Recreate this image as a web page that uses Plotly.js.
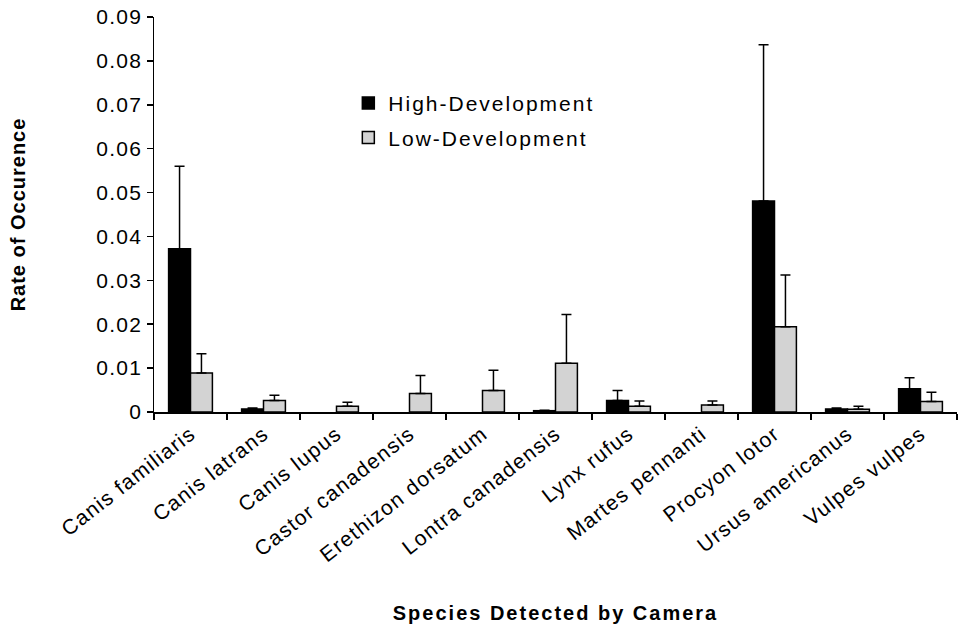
<!DOCTYPE html>
<html><head><meta charset="utf-8">
<script src="https://cdn.plot.ly/plotly-3.0.1.min.js"></script>
<style>
html,body{margin:0;padding:0;background:#fff}
.xtick text,.ytick text{letter-spacing:1.3px}
.legendtext{letter-spacing:2px}
.xtitle{letter-spacing:2px}
.ytitle{letter-spacing:1px}
</style>
</head><body><div id="chart" style="width:961px;height:624px"></div>
<script>
var species = ["Canis familiaris","Canis latrans","Canis lupus","Castor canadensis","Erethizon dorsatum","Lontra canadensis","Lynx rufus","Martes pennanti","Procyon lotor","Ursus americanus","Vulpes vulpes"];
var highDev = [0.0372,0.0007,null,null,null,0.0003,0.0026,null,0.0481,0.0007,0.0053];
var highErr = [0.0188,0.0002,0,0,0,0.0001,0.0023,0,0.0356,0.0002,0.0025];
var lowDev  = [0.0089,0.0026,0.0013,0.0042,0.0049,0.0111,0.0013,0.0016,0.0194,0.0006,0.0024];
var lowErr  = [0.0044,0.0012,0.0009,0.0041,0.0046,0.0111,0.0012,0.0009,0.0118,0.0007,0.0021];
var zeros = species.map(function(){return 0;});

var traces = [
 {type:"bar", name:"High-Development", x:species, y:highDev, legendgroup:"a",
  marker:{color:"#000000", line:{color:"#000000", width:1.5}},
  error_y:{type:"data", symmetric:false, array:highErr, arrayminus:zeros, color:"#000000", thickness:1.5, width:5}},
 {type:"bar", name:"Low-Development", x:species, y:lowDev, legendgroup:"b",
  marker:{color:"#d3d3d3", line:{color:"#000000", width:1.5}},
  error_y:{type:"data", symmetric:false, array:lowErr, arrayminus:zeros, color:"#000000", thickness:1.5, width:5}}
];

var layout = {
 width:961, height:624,
 margin:{l:154, r:4, t:17, b:212, autoexpand:false},
 paper_bgcolor:"#ffffff", plot_bgcolor:"#ffffff",
 font:{family:"Liberation Sans, Arial, sans-serif", color:"#000", size:21},
 barmode:"group", bargap:0.4, bargroupgap:0,
 showlegend:true,
 legend:{x:0.242, y:0.833, xanchor:"left", yanchor:"top", bgcolor:"rgba(0,0,0,0)",
  font:{size:21}, tracegroupgap:4, itemwidth:30},
 xaxis:{type:"category", tickangle:-38, showline:true, linecolor:"#000", linewidth:1.5,
  ticks:"outside", ticklen:6, tickcolor:"#000", tickwidth:1.5, tickson:"boundaries",
  showgrid:false, zeroline:false, tickfont:{size:21}, automargin:false,
  title:{text:"<b>Species Detected by Camera</b>", font:{size:20}, standoff:50}},
 yaxis:{range:[0,0.09], dtick:0.01, showline:true, linecolor:"#000", linewidth:1.5,
  ticks:"outside", ticklen:6, tickcolor:"#000", tickwidth:1.5, showgrid:false, zeroline:false,
  tickfont:{size:21}, automargin:false,
  title:{text:"<b>Rate of Occurence</b>", font:{size:20}, standoff:65}}
};
Plotly.newPlot("chart", traces, layout, {displayModeBar:false, staticPlot:true});
</script></body></html>
